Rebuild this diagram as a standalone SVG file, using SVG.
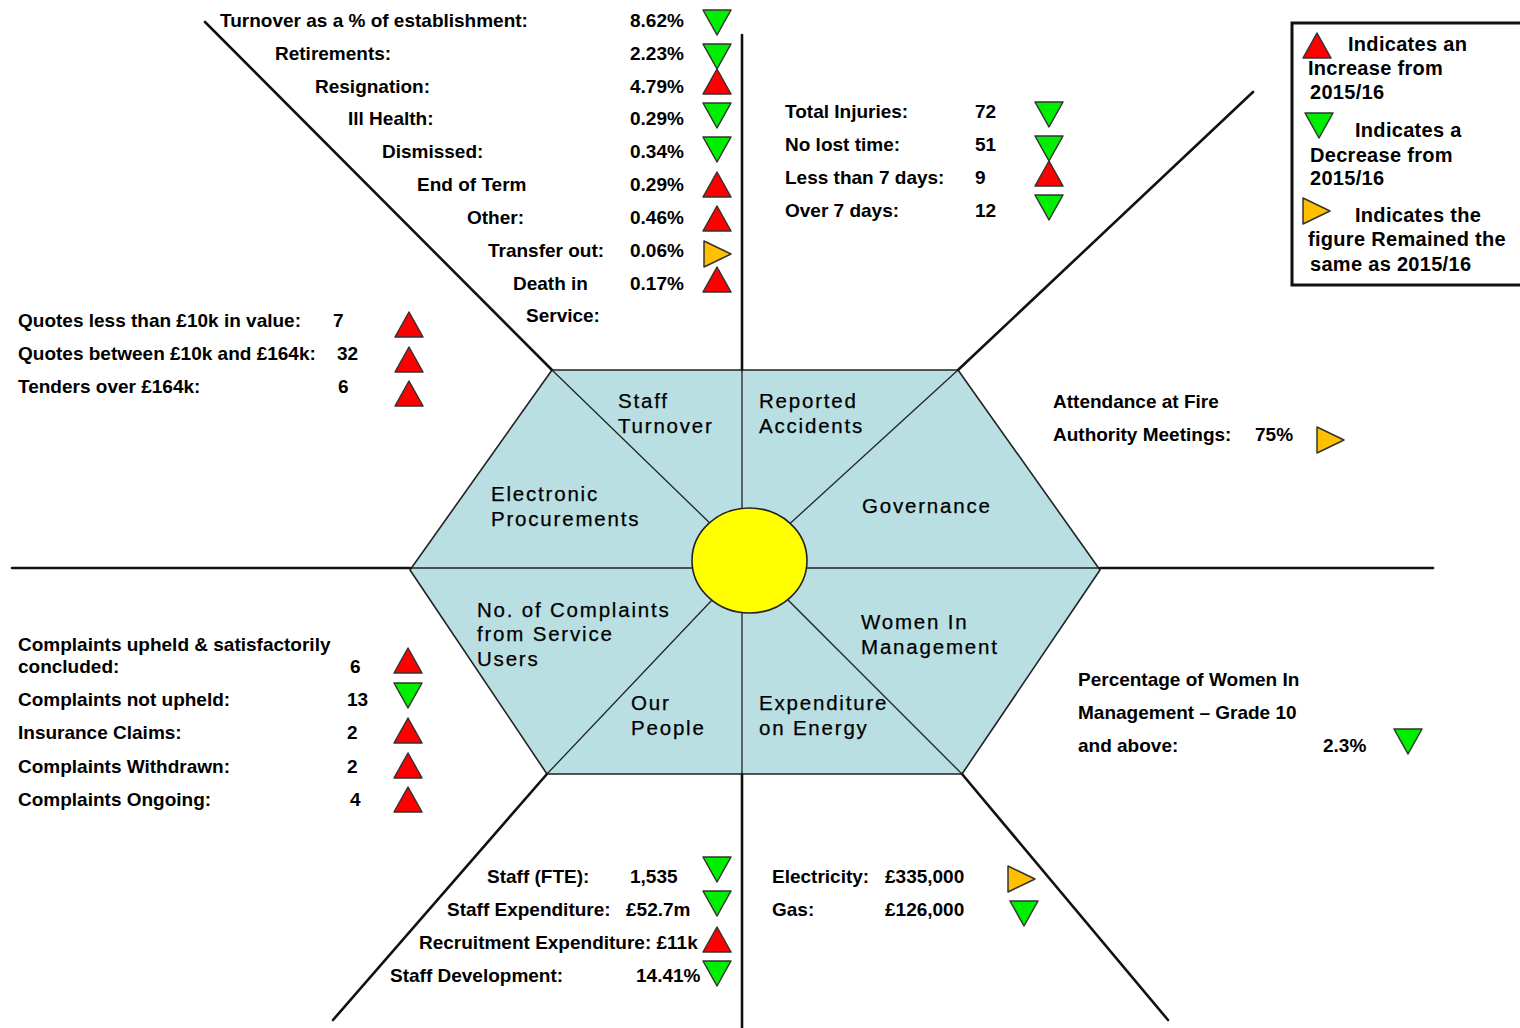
<svg xmlns="http://www.w3.org/2000/svg" xmlns:xlink="http://www.w3.org/1999/xlink" width="1520" height="1028" viewBox="0 0 1520 1028">
<style>
text { font-family: "Liberation Sans", Arial, sans-serif; fill: #000; }
.t { font-size: 19px; font-weight: bold; }
.h { font-size: 20.5px; letter-spacing: 1.8px; stroke: #000; stroke-width: 0.25; }
.lg { font-size: 20px; font-weight: bold; letter-spacing: 0.3px; }
.outer { stroke: #111; stroke-width: 2.6; fill: none; stroke-linecap: round; }
.inner { stroke: #222; stroke-width: 1.3; fill: none; }
.hex { fill: #b9dfe2; stroke: #222; stroke-width: 1.6; stroke-linejoin: round; }
.sun { fill: #ffff00; stroke: #222; stroke-width: 1.6; }
.red { fill: #ff0000; stroke: #333; stroke-width: 1.5; stroke-linejoin: round; }
.grn { fill: #00ee00; stroke: #333; stroke-width: 1.5; stroke-linejoin: round; }
.yel { fill: #ffc000; stroke: #333; stroke-width: 1.5; stroke-linejoin: round; }
.legend { fill: #fff; stroke: #111; stroke-width: 3; }
</style>
<defs>
<polygon id="tu" points="14,0 28,25 0,25"/>
<polygon id="td" points="0,0 28,0 14,25"/>
<polygon id="tr" points="0,0 27,13 0,26"/>
</defs>

<g id="hexagon">
<polygon class="hex" points="552,370 958,370 1100,570 962,774 547,774 410,570"/>
</g>

<g id="connectors">
<line class="outer" x1="742" y1="35" x2="742" y2="370"/>
<line class="outer" x1="742" y1="774" x2="742" y2="1028"/>
<line class="outer" x1="12" y1="568" x2="410" y2="568"/>
<line class="outer" x1="1100" y1="568" x2="1433" y2="568"/>
<line class="outer" x1="205" y1="22" x2="552" y2="370"/>
<line class="outer" x1="1253" y1="92" x2="958" y2="370"/>
<line class="outer" x1="547" y1="774" x2="333" y2="1020"/>
<line class="outer" x1="962" y1="774" x2="1168" y2="1020"/>
<line class="inner" x1="742" y1="370" x2="742" y2="774"/>
<line class="inner" x1="410" y1="568" x2="1100" y2="568"/>
<line class="inner" x1="552" y1="370" x2="749" y2="561"/>
<line class="inner" x1="958" y1="370" x2="749" y2="561"/>
<line class="inner" x1="547" y1="774" x2="749" y2="561"/>
<line class="inner" x1="962" y1="774" x2="749" y2="561"/>
</g>

<g id="centre">
<ellipse class="sun" cx="749.5" cy="560.5" rx="57.5" ry="52.5"/>
</g>

<g id="seg-staff-turnover">
<text class="h" x="618" y="408">Staff</text>
<text class="h" x="618" y="433">Turnover</text>
</g>
<g id="seg-reported-accidents">
<text class="h" x="759" y="408">Reported</text>
<text class="h" x="759" y="433">Accidents</text>
</g>
<g id="seg-electronic-procurements">
<text class="h" x="491" y="501">Electronic</text>
<text class="h" x="491" y="526">Procurements</text>
</g>
<g id="seg-governance">
<text class="h" x="862" y="513">Governance</text>
</g>
<g id="seg-complaints">
<text class="h" x="477" y="617">No. of Complaints</text>
<text class="h" x="477" y="641">from Service</text>
<text class="h" x="477" y="666">Users</text>
</g>
<g id="seg-women">
<text class="h" x="861" y="629">Women In</text>
<text class="h" x="861" y="654">Management</text>
</g>
<g id="seg-our-people">
<text class="h" x="631" y="710">Our</text>
<text class="h" x="631" y="735">People</text>
</g>
<g id="seg-energy">
<text class="h" x="759" y="710">Expenditure</text>
<text class="h" x="759" y="735">on Energy</text>
</g>

<g id="turnover-data">
<text class="t" x="220" y="27">Turnover as a % of establishment:</text>
<text class="t" x="275" y="60">Retirements:</text>
<text class="t" x="315" y="93">Resignation:</text>
<text class="t" x="348" y="125">Ill Health:</text>
<text class="t" x="382" y="158">Dismissed:</text>
<text class="t" x="417" y="191">End of Term</text>
<text class="t" x="467" y="224">Other:</text>
<text class="t" x="488" y="257">Transfer out:</text>
<text class="t" x="513" y="290">Death in</text>
<text class="t" x="526" y="322">Service:</text>
<text class="t" x="630" y="27">8.62%</text>
<text class="t" x="630" y="60">2.23%</text>
<text class="t" x="630" y="93">4.79%</text>
<text class="t" x="630" y="125">0.29%</text>
<text class="t" x="630" y="158">0.34%</text>
<text class="t" x="630" y="191">0.29%</text>
<text class="t" x="630" y="224">0.46%</text>
<text class="t" x="630" y="257">0.06%</text>
<text class="t" x="630" y="290">0.17%</text>
<use href="#td" class="grn" x="703" y="10"/>
<use href="#td" class="grn" x="703" y="44"/>
<use href="#tu" class="red" x="703" y="69"/>
<use href="#td" class="grn" x="703" y="103"/>
<use href="#td" class="grn" x="703" y="137"/>
<use href="#tu" class="red" x="703" y="172"/>
<use href="#tu" class="red" x="703" y="206"/>
<use href="#tr" class="yel" x="704" y="241"/>
<use href="#tu" class="red" x="703" y="267"/>
</g>

<g id="accidents-data">
<text class="t" x="785" y="118">Total Injuries:</text>
<text class="t" x="785" y="151">No lost time:</text>
<text class="t" x="785" y="184">Less than 7 days:</text>
<text class="t" x="785" y="217">Over 7 days:</text>
<text class="t" x="975" y="118">72</text>
<text class="t" x="975" y="151">51</text>
<text class="t" x="975" y="184">9</text>
<text class="t" x="975" y="217">12</text>
<use href="#td" class="grn" x="1035" y="102"/>
<use href="#td" class="grn" x="1035" y="136"/>
<use href="#tu" class="red" x="1035" y="161"/>
<use href="#td" class="grn" x="1035" y="195"/>
</g>

<g id="legend">
<rect class="legend" x="1292" y="23" width="232" height="262"/>
<use href="#tu" class="red" x="1303" y="33"/>
<text class="lg" x="1348" y="51">Indicates an</text>
<text class="lg" x="1308" y="75">Increase from</text>
<text class="lg" x="1310" y="99">2015/16</text>
<use href="#td" class="grn" x="1305" y="113"/>
<text class="lg" x="1355" y="137">Indicates a</text>
<text class="lg" x="1310" y="162">Decrease from</text>
<text class="lg" x="1310" y="185">2015/16</text>
<use href="#tr" class="yel" x="1303" y="198"/>
<text class="lg" x="1355" y="222">Indicates the</text>
<text class="lg" x="1308" y="246">figure Remained the</text>
<text class="lg" x="1310" y="271">same as 2015/16</text>
</g>

<g id="procurement-data">
<text class="t" x="18" y="327">Quotes less than £10k in value:</text>
<text class="t" x="18" y="360">Quotes between £10k and £164k:</text>
<text class="t" x="18" y="393">Tenders over £164k:</text>
<text class="t" x="333" y="327">7</text>
<text class="t" x="337" y="360">32</text>
<text class="t" x="338" y="393">6</text>
<use href="#tu" class="red" x="395" y="312"/>
<use href="#tu" class="red" x="395" y="347"/>
<use href="#tu" class="red" x="395" y="381"/>
</g>

<g id="governance-data">
<text class="t" x="1053" y="408">Attendance at Fire</text>
<text class="t" x="1053" y="441">Authority Meetings:</text>
<text class="t" x="1255" y="441">75%</text>
<use href="#tr" class="yel" x="1317" y="427"/>
</g>

<g id="complaints-data">
<text class="t" x="18" y="651">Complaints upheld &amp; satisfactorily</text>
<text class="t" x="18" y="673">concluded:</text>
<text class="t" x="18" y="706">Complaints not upheld:</text>
<text class="t" x="18" y="739">Insurance Claims:</text>
<text class="t" x="18" y="773">Complaints Withdrawn:</text>
<text class="t" x="18" y="806">Complaints Ongoing:</text>
<text class="t" x="350" y="673">6</text>
<text class="t" x="347" y="706">13</text>
<text class="t" x="347" y="739">2</text>
<text class="t" x="347" y="773">2</text>
<text class="t" x="350" y="806">4</text>
<use href="#tu" class="red" x="394" y="648"/>
<use href="#td" class="grn" x="394" y="683"/>
<use href="#tu" class="red" x="394" y="718"/>
<use href="#tu" class="red" x="394" y="753"/>
<use href="#tu" class="red" x="394" y="787"/>
</g>

<g id="women-data">
<text class="t" x="1078" y="686">Percentage of Women In</text>
<text class="t" x="1078" y="719">Management – Grade 10</text>
<text class="t" x="1078" y="752">and above:</text>
<text class="t" x="1323" y="752">2.3%</text>
<use href="#td" class="grn" x="1394" y="729"/>
</g>

<g id="people-data">
<text class="t" x="487" y="883">Staff (FTE):</text>
<text class="t" x="630" y="883">1,535</text>
<text class="t" x="447" y="916">Staff Expenditure:</text>
<text class="t" x="626" y="916">£52.7m</text>
<text class="t" x="419" y="949">Recruitment Expenditure: £11k</text>
<text class="t" x="390" y="982">Staff Development:</text>
<text class="t" x="636" y="982">14.41%</text>
<use href="#td" class="grn" x="703" y="857"/>
<use href="#td" class="grn" x="703" y="891"/>
<use href="#tu" class="red" x="703" y="927"/>
<use href="#td" class="grn" x="703" y="961"/>
</g>

<g id="energy-data">
<text class="t" x="772" y="883">Electricity:</text>
<text class="t" x="885" y="883">£335,000</text>
<text class="t" x="772" y="916">Gas:</text>
<text class="t" x="885" y="916">£126,000</text>
<use href="#tr" class="yel" x="1008" y="866"/>
<use href="#td" class="grn" x="1010" y="901"/>
</g>
</svg>
